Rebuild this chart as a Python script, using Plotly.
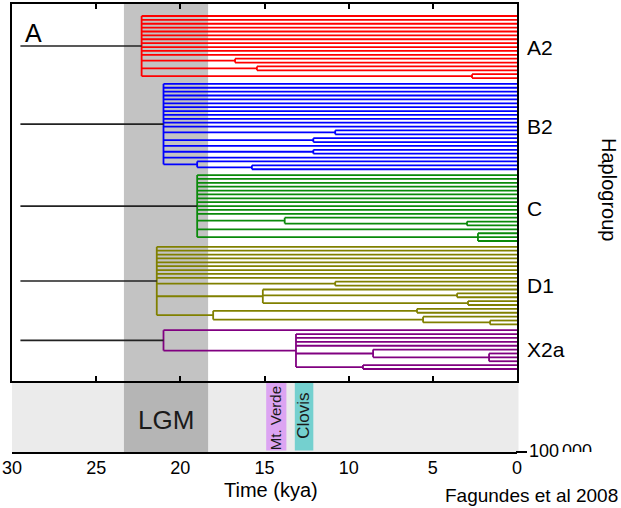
import plotly.graph_objects as go

# ---------------- data ----------------
L = 0.0  # a leaf (sampled lineage, present day)

# trees: (node age in kya, [children]) ; children are leaves (L) or sub-clades
A2_TREE = (22.3, [L] * 11 + [(16.75, [L, L]), (15.45, [L, L]), (2.67, [L, L])])
B2_TREE = (21.0, [L] * 12 + [(10.8, [L, L]), (12.1, [L, L]), L, (12.1, [L, L]), L,
                             (19.0, [L, (15.75, [L, L])])])
C_TREE = (19.0, [L] * 11 + [(13.8, [L, (2.97, [L, L])]), L, (2.32, [L, L, L])])
D1_TREE = (21.4, [L] * 9 + [(10.8, [L, L]),
                            (15.1, [L, (3.56, [L, L]), (2.91, [L, L])]),
                            (18.05, [(5.94, [L, L]), (5.58, [L, (1.6, [L, L])])])])
X2A_TREE = (21.0, [L, (13.13, [L, L, L, L, (8.55, [L, (1.66, [L, L, L])]), (9.15, [L, L])])])

GROUP_NAMES = ["A2", "B2", "C", "D1", "X2a"]
GROUP_TREES = [A2_TREE, B2_TREE, C_TREE, D1_TREE, X2A_TREE]
GROUP_COLORS = ["#ff0000", "#0000ff", "#0a8a0a", "#808000", "#800080"]
STEM_START = 29.5          # kya where the black root stems begin

LGM = (23.35, 18.35)
MT_VERDE = (14.9, 13.7)
CLOVIS = (13.2, 12.1)

X_TICKS = [30, 25, 20, 15, 10, 5, 0]
X_TICK_TEXT = ["30", "25", "20", "15", "10", "5", "0"]

# ---------------- layout helpers ----------------
W, H = 621, 508
GROUP_GAP = 0.5            # extra rows between haplogroups
FONT = "Liberation Sans, Arial, sans-serif"


def px_x(p):
    return p / W


def px_y(p):
    return (H - p) / H


def draw(node, parent_t, xs, ys, counter):
    if not isinstance(node, tuple):
        y = counter[0]
        counter[0] += 1
        xs += [parent_t, 0.0, None]
        ys += [y, y, None]
        return y
    t, kids = node
    kid_y = [draw(k, t, xs, ys, counter) for k in kids]
    xs += [t, t, None]
    ys += [kid_y[0], kid_y[-1], None]
    y = (kid_y[0] + kid_y[-1]) / 2
    if parent_t is not None:
        xs += [parent_t, t, None]
        ys += [y, y, None]
    return y


fig = go.Figure()
counter = [0.0]
stem_x, stem_y = [], []
label_pos = []
for name, tree, col in zip(GROUP_NAMES, GROUP_TREES, GROUP_COLORS):
    xs, ys = [], []
    first = counter[0]
    root_y = draw(tree, None, xs, ys, counter)
    last = counter[0] - 1
    label_pos.append((first + last) / 2)
    stem_x += [STEM_START, tree[0], None]
    stem_y += [root_y, root_y, None]
    fig.add_trace(go.Scatter(x=xs, y=ys, mode="lines", line=dict(color=col, width=1.8),
                             hoverinfo="skip", showlegend=False))
    counter[0] += GROUP_GAP
total = counter[0] - 1 - GROUP_GAP

fig.add_trace(go.Scatter(x=stem_x, y=stem_y, mode="lines", line=dict(color="#222222", width=1.6),
                         hoverinfo="skip", showlegend=False))

# clipped "000" of the cut-off label
fig.add_trace(go.Scatter(x=[0], y=[0], mode="text", text=["000"], textposition="middle right",
                         textfont=dict(size=18, color="black", family=FONT), cliponaxis=True,
                         xaxis="x3", yaxis="y3", hoverinfo="skip", showlegend=False))

first_px, last_px, top_px, bot_px = 16, 369, 4, 381
s = (last_px - first_px) / total
y_range = [total + (bot_px - last_px) / s, -(first_px - top_px) / s]

x_dom = [px_x(12), px_x(517)]
fig.update_layout(
    width=W, height=H, margin=dict(l=0, r=0, t=0, b=0, autoexpand=False),
    paper_bgcolor="white", plot_bgcolor="white", showlegend=False,
    xaxis=dict(domain=x_dom, range=[30, 0], anchor="y", showline=True, linecolor="black",
               linewidth=2, mirror="ticks", ticks="inside", ticklen=5, tickwidth=1.5,
               tickcolor="black", tickvals=X_TICKS, showticklabels=False,
               showgrid=False, zeroline=False, automargin=False),
    yaxis=dict(domain=[px_y(bot_px), px_y(top_px)], range=y_range, anchor="x",
               showline=True, linecolor="black", linewidth=2, mirror=True,
               showticklabels=False, ticks="", showgrid=False, zeroline=False, automargin=False),
    xaxis2=dict(domain=x_dom, range=[30, 0], anchor="y2", showline=True, linecolor="black",
                linewidth=2, ticks="", tickvals=X_TICKS, ticktext=X_TICK_TEXT,
                tickfont=dict(size=18, color="black", family=FONT), ticklabelstandoff=-2,
                showgrid=False, zeroline=False, automargin=False),
    yaxis2=dict(domain=[px_y(452), px_y(bot_px)], range=[0, 1], anchor="x2", visible=False,
                automargin=False),
    xaxis3=dict(domain=[px_x(562), px_x(615)], range=[0, 1], anchor="y3", visible=False,
                automargin=False),
    yaxis3=dict(domain=[px_y(452), px_y(436)], range=[0, 1], anchor="x3", visible=False,
                automargin=False),
)

shapes = [
    dict(type="rect", xref="x", yref="y domain", x0=LGM[0], x1=LGM[1], y0=0, y1=1,
         fillcolor="#c3c3c3", line=dict(width=0), layer="below"),
    dict(type="rect", xref="x2 domain", yref="y2 domain", x0=0, x1=1.003, y0=0, y1=1,
         fillcolor="#ebebeb", line=dict(width=0), layer="below"),
    dict(type="rect", xref="x2", yref="y2 domain", x0=LGM[0], x1=LGM[1], y0=0, y1=1,
         fillcolor="#b5b5b5", line=dict(width=0), layer="below"),
    dict(type="rect", xref="x2", yref="y2 domain", x0=MT_VERDE[0], x1=MT_VERDE[1], y0=0.02, y1=0.98,
         fillcolor="#dca4f2", line=dict(width=0), layer="below"),
    dict(type="rect", xref="x2", yref="y2 domain", x0=CLOVIS[0], x1=CLOVIS[1], y0=0.02, y1=0.98,
         fillcolor="#74d0cf", line=dict(width=0), layer="below"),
    dict(type="line", xref="paper", yref="y2 domain", x0=px_x(516), x1=px_x(527), y0=0, y1=0,
         line=dict(color="black", width=2)),
]
fig.update_layout(shapes=shapes)

ann = []
for name, yv in zip(GROUP_NAMES, label_pos):
    ann.append(dict(text=name, xref="paper", yref="y", x=px_x(525), y=yv, xanchor="left",
                    yanchor="middle", showarrow=False, font=dict(size=21, color="black", family=FONT)))
ann += [
    dict(text="A", xref="paper", yref="paper", x=px_x(23), y=px_y(33), xanchor="left",
         yanchor="middle", showarrow=False, font=dict(size=25, color="black", family=FONT)),
    dict(text="Haplogroup", xref="paper", yref="paper", x=px_x(609), y=px_y(189), textangle=90,
         xanchor="center", yanchor="middle", showarrow=False,
         font=dict(size=20, color="black", family=FONT)),
    dict(text="LGM", xref="x2", yref="y2 domain", x=sum(LGM) / 2, y=0.45, yanchor="middle",
         showarrow=False, font=dict(size=26, color="#1a1a1a", family=FONT)),
    dict(text="Mt. Verde", xref="x2", yref="y2 domain", x=sum(MT_VERDE) / 2, y=0.48, textangle=-90,
         yanchor="middle", showarrow=False, font=dict(size=15, color="#1a1a1a", family=FONT)),
    dict(text="Clovis", xref="x2", yref="y2 domain", x=sum(CLOVIS) / 2, y=0.51, textangle=-90,
         yanchor="middle", showarrow=False, font=dict(size=17, color="#1a1a1a", family=FONT)),
    dict(text="Time (kya)", xref="paper", yref="paper", x=px_x(271), y=px_y(490), yanchor="middle",
         showarrow=False, font=dict(size=20, color="black", family=FONT)),
    dict(text="Fagundes et al 2008", xref="paper", yref="paper", x=px_x(620), y=px_y(495),
         xanchor="right", yanchor="middle", showarrow=False,
         font=dict(size=19, color="black", family=FONT)),
    dict(text="100", xref="paper", yref="paper", x=px_x(527), y=px_y(450.5), xanchor="left",
         yanchor="middle", showarrow=False, font=dict(size=18, color="black", family=FONT)),
]
fig.update_layout(annotations=ann)

fig.write_html("out.html")
